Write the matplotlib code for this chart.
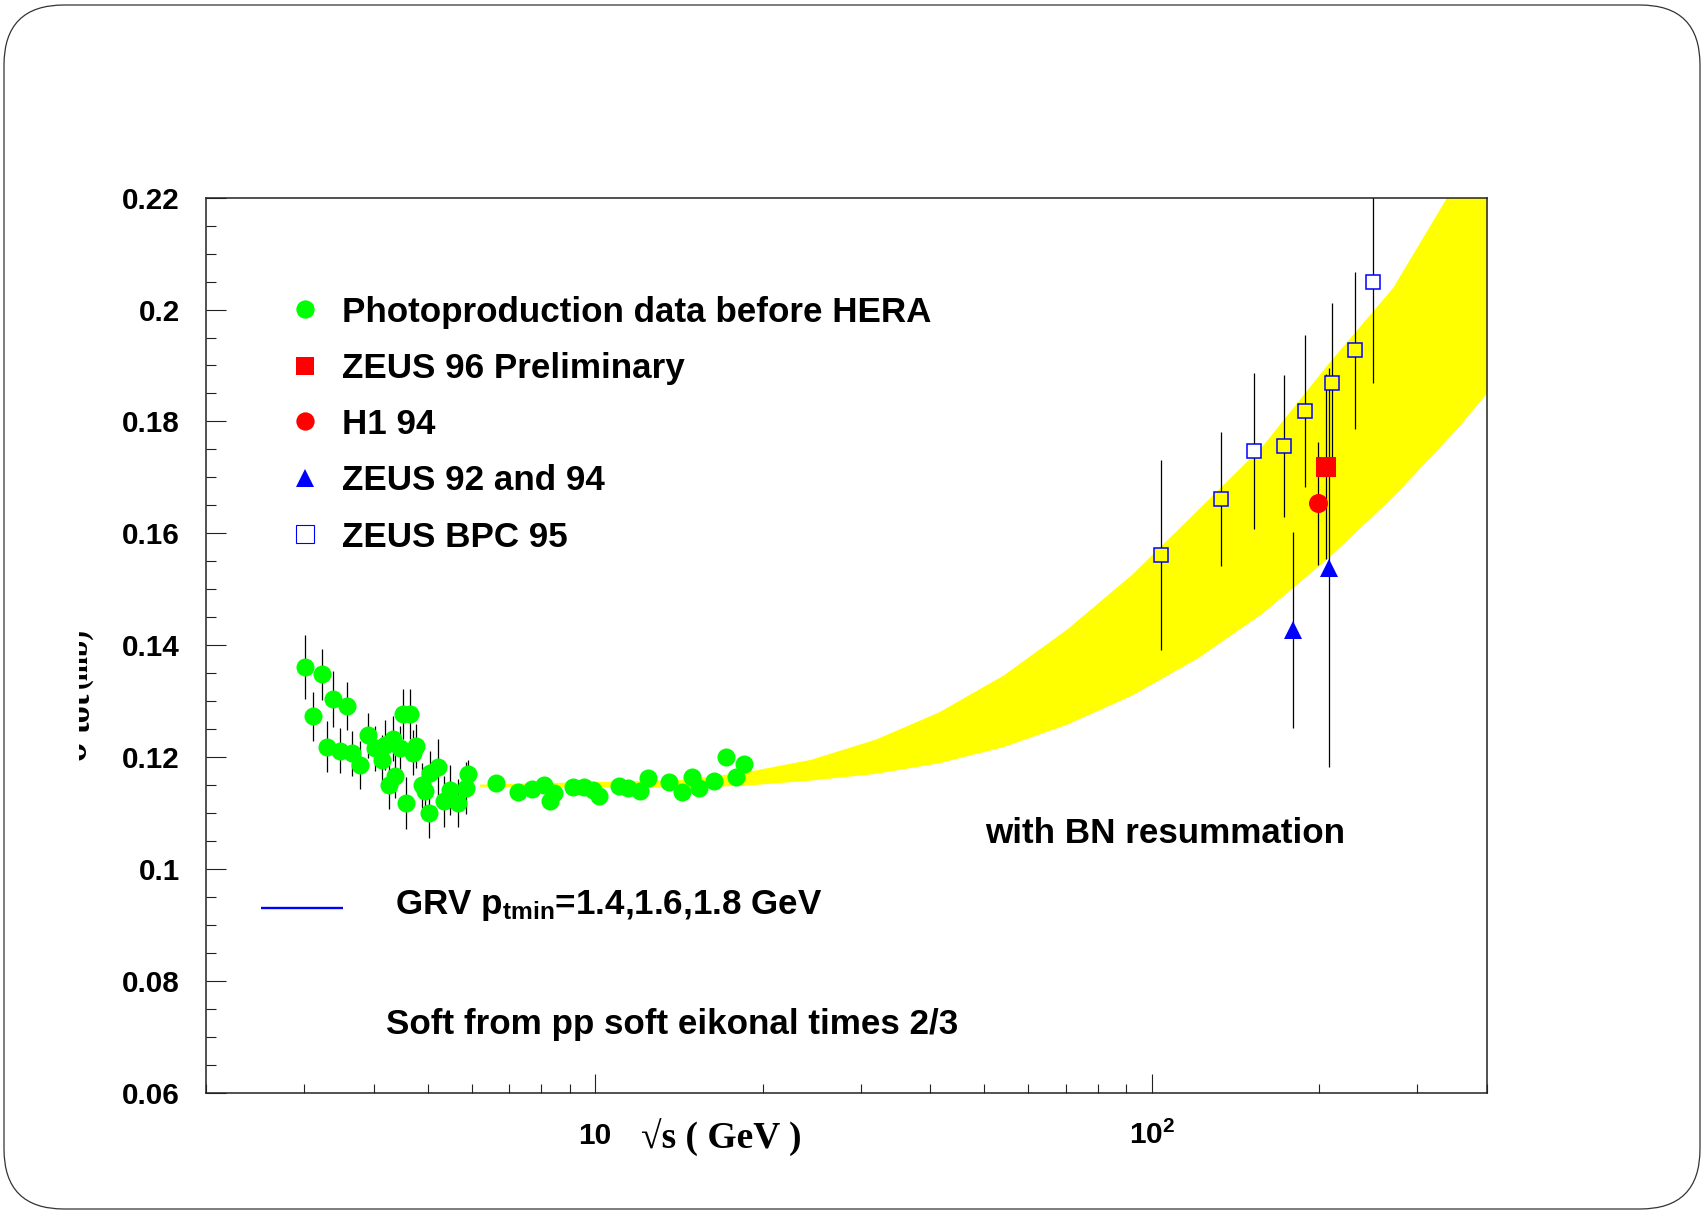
import numpy as np
import matplotlib
matplotlib.use("Agg")
import matplotlib.pyplot as plt
from matplotlib.patches import FancyBboxPatch
from matplotlib.lines import Line2D
from matplotlib.transforms import Bbox, IdentityTransform
import matplotlib.ticker as mticker

# ---------------- data ----------------
green_x = [3.017, 3.225, 3.117, 3.377, 3.579, 3.298, 3.476, 3.658, 3.776, 3.908,
           4.029, 4.141, 4.200, 4.329, 4.469, 4.511, 4.644, 4.707, 4.766, 4.257,
           4.377, 4.580, 4.886, 4.955, 5.057, 5.219, 5.022, 5.343, 5.494, 5.668,
           5.869, 5.908, 6.643, 7.263, 7.698, 8.080, 8.308, 8.420, 9.108, 9.570,
           9.930, 10.17, 11.02, 11.48, 12.05, 12.47, 13.59, 14.31, 14.92, 15.38,
           16.32, 17.17, 17.92, 18.52]
green_y = [0.1361, 0.1348, 0.1273, 0.1304, 0.1292, 0.1219, 0.1212, 0.1207, 0.1186, 0.1239,
           0.1216, 0.1195, 0.1222, 0.1233, 0.1216, 0.1277, 0.1277, 0.1208, 0.1220, 0.1150,
           0.1167, 0.1118, 0.1150, 0.1139, 0.1171, 0.1183, 0.1101, 0.1121, 0.1142, 0.1118,
           0.1145, 0.1170, 0.1154, 0.1137, 0.1143, 0.1150, 0.1121, 0.1136, 0.1147, 0.1147,
           0.1142, 0.1131, 0.1149, 0.1145, 0.1139, 0.1162, 0.1156, 0.1137, 0.1165, 0.1145,
           0.1158, 0.1200, 0.1164, 0.1188]
green_err = [0.0057, 0.0045, 0.0044, 0.0050, 0.0043, 0.0046, 0.0040, 0.0040, 0.0043, 0.0040,
             0.0040, 0.0045, 0.0045, 0.0040, 0.0040, 0.0045, 0.0045, 0.0040, 0.0040, 0.0043,
             0.0040, 0.0047, 0.0040, 0.0040, 0.0040, 0.0050, 0.0045, 0.0045, 0.0045, 0.0043,
             0.0047, 0.0025, 0.0010, 0.0010, 0.0010, 0.0010, 0.0010, 0.0010, 0.0010, 0.0010,
             0.0010, 0.0010, 0.0010, 0.0010, 0.0010, 0.0010, 0.0010, 0.0010, 0.0010, 0.0010,
             0.0010, 0.0010, 0.0010, 0.0010]

zeus96_x = [205.6]
zeus96_y = [0.1719]
zeus96_err = [0.0165]

h1_x = [198.7]
h1_y = [0.1654]
h1_err = [0.0110]

zeus9294_x = [179.5, 208.5]
zeus9294_y = [0.1427, 0.1539]
zeus9294_err = [0.0175, 0.0357]

bpc_x = [103.7, 133.2, 152.3, 172.4, 188.8, 211.0, 231.8, 249.7]
bpc_y = [0.1562, 0.1662, 0.1747, 0.1756, 0.1819, 0.1869, 0.1927, 0.2049]
bpc_err = [0.0170, 0.0120, 0.0140, 0.0127, 0.0136, 0.0142, 0.0140, 0.0180]

band_x = [6.2, 14.2, 18.6, 24.3, 31.8, 41.4, 54.1, 70.3, 92.0, 121.0, 158.0, 207.0, 271.0, 355.0, 400.0]
band_lo = [0.1148, 0.1146, 0.1150, 0.1159, 0.1171, 0.1190, 0.1219, 0.1259, 0.1311, 0.1378,
           0.1458, 0.1556, 0.1666, 0.1790, 0.1852]
band_hi = [0.1152, 0.1160, 0.1174, 0.1196, 0.1232, 0.1281, 0.1347, 0.1429, 0.1527, 0.1643,
           0.1757, 0.1903, 0.2040, 0.2235, 0.2320]

y_ticks = [0.06, 0.08, 0.10, 0.12, 0.14, 0.16, 0.18, 0.20, 0.22]
y_ticklabels = ["0.06", "0.08", "0.1", "0.12", "0.14", "0.16", "0.18", "0.2", "0.22"]
x_ticks = [10, 100]
x_ticklabels = ["10", r"$10^{2}$"]
x_minor = [2, 3, 4, 5, 6, 7, 8, 9, 20, 30, 40, 50, 60, 70, 80, 90, 200, 300, 400]

legend_labels = ["Photoproduction data before HERA", "ZEUS 96 Preliminary", "H1 94",
                 "ZEUS 92 and 94", "ZEUS BPC 95"]

# y-axis title pieces (sigma, subscript, unit) - the title is cut at its top in the original
ytitle_parts = ["\u03c3", "tot", "(mb)"]

# ---------------- style ----------------
plt.rcParams['font.family'] = ['Liberation Sans', 'DejaVu Sans']
plt.rcParams['font.weight'] = 'bold'
plt.rcParams['mathtext.default'] = 'regular'

W, H = 1702, 1211
DPI = 100
fig = plt.figure(figsize=(W / DPI, H / DPI), dpi=DPI)
fig.patch.set_facecolor('white')

def fx(px):
    return px / W

def fy(py):
    return 1 - py / H

ax_l, ax_r, ax_t, ax_b = 206, 1487, 197.6, 1093
ax = fig.add_axes([fx(ax_l), fy(ax_b), (ax_r - ax_l) / W, (ax_b - ax_t) / H])
ax.set_xscale('log')
ax.set_xlim(2, 400)
ax.set_ylim(0.06, 0.22)

for s in ax.spines.values():
    s.set_linewidth(1.1)
    s.set_color('#222222')

YEL = '#ffff00'
GRN = '#00ff00'
RED = '#ff0000'
BLU = '#0000ff'

# band
ax.fill_between(band_x, band_lo, band_hi, color=YEL, lw=0, zorder=1)

eb_kw = dict(fmt='none', ecolor='black', elinewidth=0.9, capsize=0, zorder=2)
ax.errorbar(green_x, green_y, yerr=green_err, **eb_kw)
ax.errorbar(bpc_x, bpc_y, yerr=bpc_err, **eb_kw)
ax.errorbar(zeus96_x, zeus96_y, yerr=zeus96_err, **eb_kw)
ax.errorbar(h1_x, h1_y, yerr=h1_err, **eb_kw)
ax.errorbar(zeus9294_x, zeus9294_y, yerr=zeus9294_err, **eb_kw)

ax.plot(green_x, green_y, 'o', ms=13, mfc=GRN, mec=GRN, mew=0, zorder=3)
ax.plot(h1_x, h1_y, 'o', ms=13.7, mfc=RED, mec=RED, mew=0, zorder=3)
ax.plot(zeus96_x, zeus96_y, 's', ms=13.7, mfc=RED, mec=RED, mew=0, zorder=3)
ax.plot(zeus9294_x, zeus9294_y, '^', ms=13, mfc=BLU, mec=BLU, mew=0, zorder=3)

# open squares: interior shows whatever lies behind (band or white)
lx = np.log10(bpc_x)
lo_i = np.interp(lx, np.log10(band_x), band_lo)
hi_i = np.interp(lx, np.log10(band_x), band_hi)
for x, y, lo, hi in zip(bpc_x, bpc_y, lo_i, hi_i):
    face = YEL if lo <= y <= hi else 'white'
    ax.plot([x], [y], 's', ms=9.4, mfc=face, mec=BLU, mew=1.1, zorder=3)

# ticks
ax.yaxis.set_major_locator(mticker.FixedLocator(y_ticks))
ax.yaxis.set_major_formatter(mticker.FixedFormatter(y_ticklabels))
ax.yaxis.set_minor_locator(mticker.MultipleLocator(0.005))
ax.xaxis.set_major_locator(mticker.FixedLocator(x_ticks))
ax.xaxis.set_major_formatter(mticker.FixedFormatter(x_ticklabels))
ax.xaxis.set_minor_locator(mticker.FixedLocator(x_minor))
ax.xaxis.set_minor_formatter(mticker.NullFormatter())

ax.tick_params(axis='both', which='both', direction='in', top=False, right=False,
               width=0.8, color='#222222')
ax.tick_params(axis='y', which='major', length=14.4, labelsize=21.3, pad=18.7)
ax.tick_params(axis='y', which='minor', length=7.2)
ax.tick_params(axis='x', which='major', length=13.5, labelsize=21.5, pad=37)
ax.tick_params(axis='x', which='minor', length=6.7)
for lab in ax.get_xticklabels():
    lab.set_verticalalignment('baseline')
for lab in ax.get_yticklabels() + ax.get_xticklabels():
    lab.set_fontweight('bold')

# axis labels
ax.set_xlabel('\u221as ( GeV )', family=['Liberation Serif', 'DejaVu Serif'],
              fontweight='bold', fontsize=27, va='center')
ax.xaxis.set_label_coords((721.5 - ax_l) / (ax_r - ax_l), -(1138 - ax_b) / (ax_b - ax_t))

# y title, built from pieces, clipped on its left (top of the glyphs) like the original
yt_start = [760, 733, 688]      # pixel row where each piece starts (text reads upwards)
yt_base = [86, 90, 86]          # pixel column of each piece's baseline
yt_size = [26, 25, 21]
clip = Bbox.from_extents(79, 0, 300, H)
for part, sy, bx, fs in zip(ytitle_parts, yt_start, yt_base, yt_size):
    t = fig.text(fx(bx), fy(sy), part, rotation=90, rotation_mode='anchor',
                 ha='left', va='baseline', family=['Liberation Serif', 'DejaVu Serif'],
                 fontweight='bold', fontsize=fs)
    t.set_clip_box(clip)
    t.set_clip_on(True)

# annotations
txt_kw = dict(fontsize=25.2, fontweight='bold', transform=ax.transAxes, ha='left', va='baseline')
def axfx(px):
    return (px - ax_l) / (ax_r - ax_l)
def axfy(py):
    return (ax_b - py) / (ax_b - ax_t)

ax.text(axfx(985.6), axfy(843), 'with BN resummation', **txt_kw)
ax.text(axfx(395), axfy(914), r'GRV p$_{tmin}$=1.4,1.6,1.8 GeV', **txt_kw)
ax.text(axfx(385.5), axfy(1034), 'Soft from pp soft eikonal times 2/3', **txt_kw)
ax.plot([axfx(261), axfx(343)], [axfy(908), axfy(908)], color=BLU, lw=1.7,
        transform=ax.transAxes, solid_capstyle='butt')

# legend (drawn manually)
leg_styles = [dict(marker='o', mfc=GRN, mec=GRN, mew=0, ms=13.2),
              dict(marker='s', mfc=RED, mec=RED, mew=0, ms=13.2),
              dict(marker='o', mfc=RED, mec=RED, mew=0, ms=13.2),
              dict(marker='^', mfc=BLU, mec=BLU, mew=0, ms=12.8),
              dict(marker='s', mfc='white', mec=BLU, mew=0.8, ms=12.6)]
rows_y = [309.4, 365.8, 421.2, 477.6, 534.0]
for lab, st, ry in zip(legend_labels, leg_styles, rows_y):
    fig.add_artist(Line2D([fx(305)], [fy(ry)], linestyle='none', transform=fig.transFigure, **st))
    fig.text(fx(342), fy(ry + 12.5), lab, fontsize=25.2, fontweight='bold', ha='left', va='baseline')

# rounded frame around the slide
frame = FancyBboxPatch((4, 2), 1696, 1204, boxstyle="round,pad=0,rounding_size=60",
                       transform=IdentityTransform(), facecolor='none', edgecolor='#333333',
                       linewidth=0.9)
fig.add_artist(frame)

fig.savefig('out.png', dpi=DPI)
